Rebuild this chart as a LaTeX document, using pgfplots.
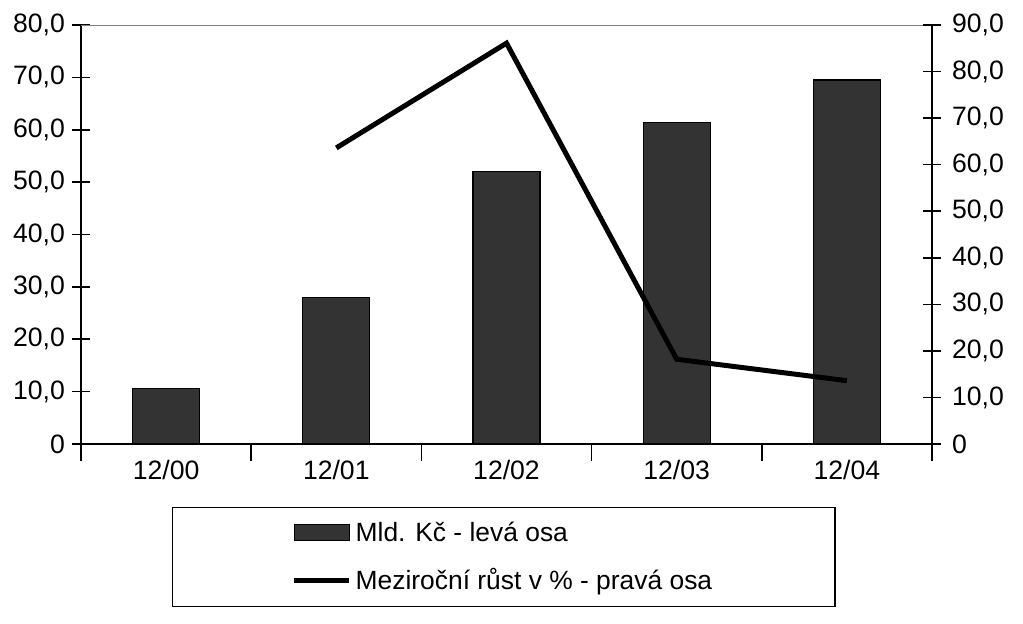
\documentclass[border=0pt]{standalone}
\usepackage{pgfplots}
\pgfplotsset{compat=1.18}
\usepackage{fontspec}
\setmainfont{Liberation Sans}

\definecolor{barfill}{HTML}{333333}

\pgfplotsset{
  barlegend/.style={legend image code/.code={\draw[##1] (0pt,-4pt) rectangle (27.5pt,4pt);}},
  linelegend/.style={legend image code/.code={\draw[##1] (0pt,0pt) -- (27.5pt,0pt);}},
}

\begin{document}
\begin{tikzpicture}
\pgfplotsset{
  every axis/.append style={
    width=425.5pt, height=209.5pt, scale only axis,
    xmin=-0.5, xmax=4.5,
    tick label style={font=\fontsize{13.3}{16}\selectfont},
    tick align=center, major tick length=9pt, minor tick length=8.5pt,
    axis line style={line width=0.8pt},
    every tick/.append style={black, line width=0.8pt},
  }
}
% whole picture frame (same proportions as the reference)
\path (-40.5pt,-89.5pt) rectangle (471pt,222pt);

\begin{axis}[
  axis x line*=bottom, axis y line*=left,
  ymin=0, ymax=80,
  ytick={0,10,...,80},
  yticklabels={0,{10,0},{20,0},{30,0},{40,0},{50,0},{60,0},{70,0},{80,0}},
  xtick={0,...,4},
  xticklabels={12/00,12/01,12/02,12/03,12/04},
  xticklabel style={yshift=4.5pt},
  major x tick style={draw=none},
  minor xtick={-0.5,0.5,...,4.5},
  ybar, bar width=33.5pt,
  legend cell align=left,
  legend style={
    at={(0.497,-0.15)}, anchor=north,
    draw=black, line width=0.8pt,
    font=\fontsize{13.2}{16}\selectfont,
    inner xsep=59.5pt, inner ysep=5pt, row sep=8pt,
  },
]
\addplot[fill=barfill, draw=black, line width=0.6pt, barlegend]
  coordinates {(0,10.6)(1,28.0)(2,52.0)(3,61.4)(4,69.5)};
\addlegendentry{Mld. Kč - levá osa}
\addlegendimage{black, line width=2.5pt, linelegend}
\addlegendentry{Meziroční růst v \% - pravá osa}
\draw[gray, line width=0.6pt] (rel axis cs:0,1) -- (rel axis cs:1,1);
\end{axis}

\begin{axis}[
  axis y line*=right, axis x line=none,
  ymin=0, ymax=90,
  ytick={0,10,...,90},
  yticklabels={0,{10,0},{20,0},{30,0},{40,0},{50,0},{60,0},{70,0},{80,0},{90,0}},
  yticklabel style={xshift=2pt},
]
\addplot[black, line width=2.5pt] coordinates {(1,63.6)(2,86.1)(3,18.2)(4,13.6)};
\end{axis}
\end{tikzpicture}
\end{document}
